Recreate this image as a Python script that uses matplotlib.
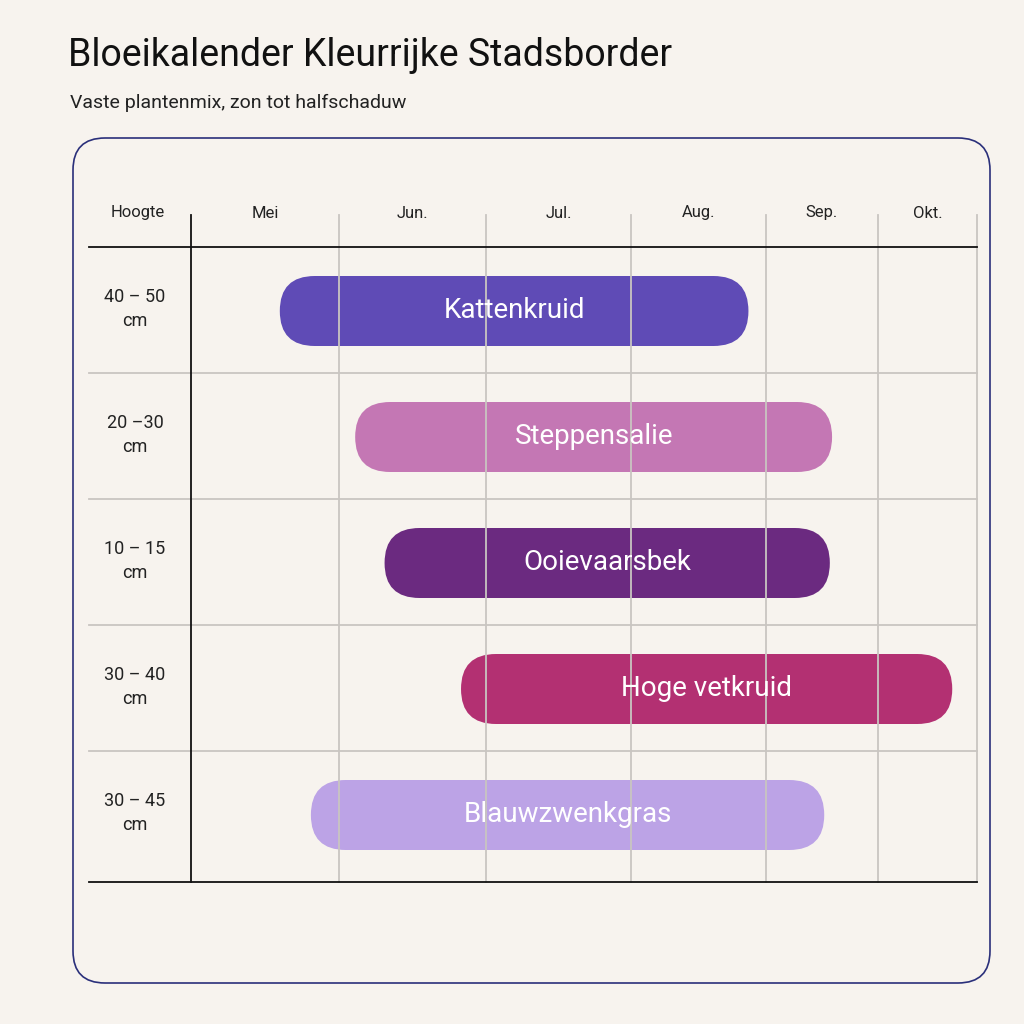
import matplotlib
matplotlib.use("Agg")
import matplotlib.pyplot as plt
from matplotlib.patches import FancyBboxPatch
import numpy as np

plt.rcParams['font.family'] = ['Roboto', 'DejaVu Sans']

months = ["Mei", "Jun.", "Jul.", "Aug.", "Sep.", "Okt."]
plants = ["Kattenkruid", "Steppensalie", "Ooievaarsbek", "Hoge vetkruid", "Blauwzwenkgras"]
heights = ["40 – 50\ncm", "20 –30\ncm", "10 – 15\ncm", "30 – 40\ncm", "30 – 45\ncm"]
# bloom start/end in month units (0 = begin Mei)
bloom_start = [0.60, 1.11, 1.31, 1.83, 0.81]
bloom_end = [3.87, 4.59, 4.57, 5.75, 4.52]
colors = ["#5f4bb6", "#c477b4", "#6b2a80", "#b33072", "#bca3e6"]

# layout (pixels)
col_edges = [191, 339, 486, 631, 766, 878, 977]
row_top, row_h = 247, 126
bg = "#f7f3ee"

fig = plt.figure(figsize=(10.24, 10.24), dpi=100, facecolor=bg)
ax = fig.add_axes([0, 0, 1, 1])
ax.set_xlim(0, 1024); ax.set_ylim(1024, 0); ax.axis("off")

def mx(v):
    return np.interp(v, np.arange(len(col_edges)), col_edges)

fig.text(68/1024, 1-55/1024, "Bloeikalender Kleurrijke Stadsborder", fontsize=27, va="center", color="#111")
fig.text(70/1024, 1-103/1024, "Vaste plantenmix, zon tot halfschaduw", fontsize=14, va="center", color="#222")

ax.add_patch(FancyBboxPatch((73, 138), 917, 845, boxstyle="round,pad=0,rounding_size=32",
                            fc="none", ec="#2a2f7a", lw=1.2))
grid = "#c9c5c1"
nrows = len(plants)
bottom = row_top + nrows * row_h + 5
for x in col_edges[1:]:
    ax.plot([x, x], [215, bottom], color=grid, lw=1.3)
for i in range(1, nrows):
    y = row_top + i * row_h
    ax.plot([89, 977], [y, y], color=grid, lw=1.3)
ax.plot([191, 191], [215, bottom], color="#111", lw=1.3)
ax.plot([89, 977], [row_top, row_top], color="#111", lw=1.3)
ax.plot([89, 977], [bottom, bottom], color="#111", lw=1.3)

ax.text(138, 213, "Hoogte", ha="center", va="center", fontsize=12, color="#222")
for i, m in enumerate(months):
    ax.text((col_edges[i] + col_edges[i+1]) / 2, 213, m, ha="center", va="center", fontsize=12, color="#222")

bh = 70
for i, (p, h, s, e, c) in enumerate(zip(plants, heights, bloom_start, bloom_end, colors)):
    yc = row_top + i * row_h + 64
    x0, x1 = mx(s), mx(e)
    ax.add_patch(FancyBboxPatch((x0, yc - bh/2), x1 - x0, bh,
                                boxstyle=f"round,pad=0,rounding_size={bh/2}", fc=c, ec="none"))
    ax.text((x0 + x1) / 2, yc, p, ha="center", va="center", fontsize=20, color="white")
    ax.text(135, yc - 2, h, ha="center", va="center", fontsize=13, color="#222", linespacing=1.4)

fig.savefig("out.png", dpi=100, facecolor=bg)
